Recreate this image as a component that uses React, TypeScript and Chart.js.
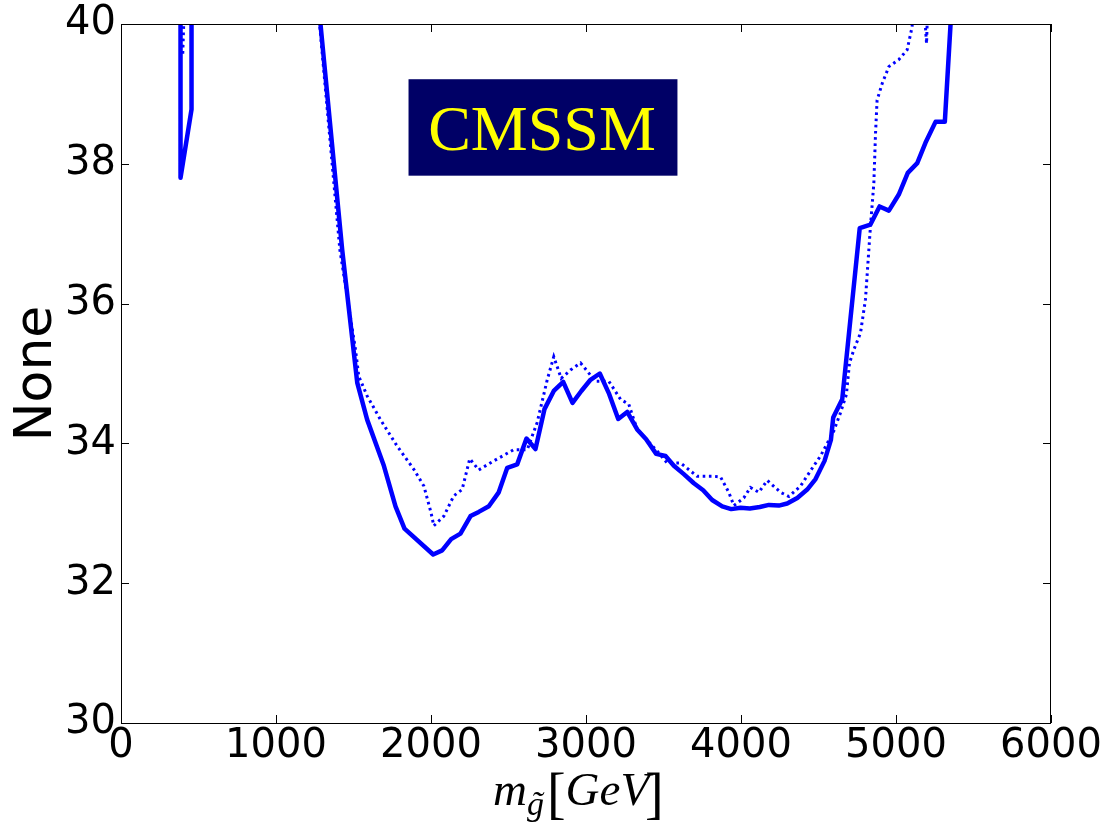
import React, { useEffect, useRef } from "react";
import { Chart, registerables } from "chart.js";

Chart.register(...registerables);

// ---- data ----
const solidSpikeX = [384, 384, 455, 455];
const solidSpikeY = [41, 37.8, 38.78, 41];

const solidX = [
  1270, 1427, 1524, 1588, 1696, 1771, 1829, 2014, 2072, 2130, 2190, 2255, 2308, 2373, 2437, 2492, 2556,
  2616, 2674, 2732, 2792, 2853, 2913, 2970, 3029, 3089, 3147, 3208, 3266, 3330, 3388, 3453, 3513, 3567,
  3631, 3696, 3756, 3814, 3879, 3937, 3997, 4057, 4121, 4180, 4244, 4298, 4363, 4427, 4481, 4539, 4580,
  4595, 4653, 4766, 4835, 4894, 4954, 5018, 5076, 5137, 5190, 5255, 5315, 5352, 5360,
];
const solidY = [
  40.39, 36.77, 34.87, 34.34, 33.68, 33.1, 32.78, 32.41, 32.47, 32.63, 32.71, 32.96, 33.02, 33.1, 33.3,
  33.65, 33.7, 34.07, 33.92, 34.49, 34.75, 34.88, 34.58, 34.75, 34.91, 35.0, 34.72, 34.35, 34.45, 34.2,
  34.06, 33.85, 33.82, 33.68, 33.56, 33.43, 33.33, 33.19, 33.1, 33.06, 33.08, 33.07, 33.09, 33.12, 33.11,
  33.14, 33.22, 33.34, 33.49, 33.75, 34.05, 34.37, 34.63, 37.08, 37.13, 37.39, 37.33, 37.56, 37.87, 38.01,
  38.3, 38.6, 38.6, 40.0, 40.4,
];

const dottedSpikeX = [392, 398, 412];
const dottedSpikeY = [40.5, 39.55, 40.5];

const dottedX = [
  1265, 1412, 1513, 1534, 1588, 1674, 1782, 1889, 1954, 2000, 2018, 2083, 2147, 2201, 2250, 2308, 2405,
  2534, 2621, 2685, 2750, 2792, 2840, 2900, 2965, 3061, 3147, 3223, 3276, 3330, 3459, 3524, 3610, 3717,
  3825, 3868, 3921, 3954, 4018, 4061, 4115, 4169, 4255, 4309, 4384, 4470, 4513, 4599, 4642, 4680, 4700,
  4728, 4771, 4803, 4835, 4857, 4868, 4878, 4911, 4954, 5018, 5072, 5104, 5110,
];
const dottedY = [
  40.4, 36.77, 35.34, 34.96, 34.68, 34.34, 33.96, 33.63, 33.39, 33.01, 32.82, 32.96, 33.25, 33.34, 33.78,
  33.62, 33.75, 33.91, 33.91, 34.3, 34.91, 35.24, 34.93, 35.05, 35.15, 34.89, 34.89, 34.63, 34.56, 34.2,
  33.89, 33.72, 33.72, 33.53, 33.53, 33.52, 33.3, 33.11, 33.22, 33.37, 33.3, 33.47, 33.3, 33.24, 33.39,
  33.68, 33.82, 34.18, 34.44, 34.7, 35.15, 35.34, 35.58, 36.06, 37.1, 37.72, 38.44, 38.91, 39.15, 39.39,
  39.49, 39.63, 39.96, 40.3,
];
const dottedTailX = [5180, 5197, 5205];
const dottedTailY = [40.3, 39.72, 40.3];

const xTickStep = 1000;
const yTickStep = 2;
const xMin = 0, xMax = 6000, yMin = 30, yMax = 40;

const labelText = "CMSSM";
const labelBoxX = [1855, 3590];
const labelBoxY = [39.21, 37.83];

function toPoints(xs: number[], ys: number[]) {
  return xs.map((x, i) => ({ x, y: ys[i] }));
}
function joinSegments(...segs: { x: number; y: number | null }[][]) {
  const out: { x: number; y: number | null }[] = [];
  segs.forEach((s, i) => {
    if (i > 0) {
      const prev = out[out.length - 1];
      out.push({ x: (prev.x + s[0].x) / 2, y: null });
    }
    out.push(...s);
  });
  return out;
}

const framePlugin = {
  id: "frameTicks",
  afterDraw(chart: any) {
    const { ctx, chartArea: a, scales } = chart;
    const xs = scales.x, ys = scales.y;
    ctx.save();
    ctx.strokeStyle = "#000";
    ctx.lineWidth = 1;
    ctx.strokeRect(a.left + 0.5, a.top + 0.5, a.right - a.left - 1, a.bottom - a.top);
    const tl = 8;
    ctx.beginPath();
    xs.ticks.forEach((t: any) => {
      const px = Math.round(xs.getPixelForValue(t.value)) + 0.5;
      ctx.moveTo(px, a.bottom);
      ctx.lineTo(px, a.bottom - tl);
      ctx.moveTo(px, a.top);
      ctx.lineTo(px, a.top + tl);
    });
    ys.ticks.forEach((t: any) => {
      const py = Math.round(ys.getPixelForValue(t.value)) + 0.5;
      ctx.moveTo(a.left, py);
      ctx.lineTo(a.left + tl, py);
      ctx.moveTo(a.right, py);
      ctx.lineTo(a.right - tl, py);
    });
    ctx.stroke();

    // CMSSM label box
    const bx0 = xs.getPixelForValue(labelBoxX[0]);
    const bx1 = xs.getPixelForValue(labelBoxX[1]);
    const by0 = ys.getPixelForValue(labelBoxY[0]);
    const by1 = ys.getPixelForValue(labelBoxY[1]);
    ctx.fillStyle = "#000066";
    ctx.fillRect(bx0, by0, bx1 - bx0, by1 - by0);
    ctx.fillStyle = "#ffff00";
    ctx.font = "64px 'Liberation Serif', serif";
    ctx.textAlign = "center";
    ctx.textBaseline = "alphabetic";
    ctx.fillText(labelText, (bx0 + bx1) / 2 - 1, (by0 + by1) / 2 + 23);

    // x-axis label  m_{g~}[GeV]
    ctx.fillStyle = "#000";
    ctx.textAlign = "left";
    let x = 493;
    const base = 805;
    const it = "italic 47px 'Liberation Serif', serif";
    const sub = "italic 34px 'Liberation Serif', serif";
    const br = "56px 'Liberation Serif', serif";
    ctx.font = it;
    ctx.fillText("m", x, base);
    x += ctx.measureText("m").width;
    ctx.font = sub;
    ctx.fillText("g", x, base + 10);
    ctx.fillText("\u02DC", x + 4, base + 10);
    x += ctx.measureText("g").width + 3;
    ctx.font = br;
    ctx.fillText("[", x, base + 7);
    x += ctx.measureText("[").width;
    ctx.font = it;
    ctx.fillText("GeV", x, base);
    x += ctx.measureText("GeV").width - 4;
    ctx.font = br;
    ctx.fillText("]", x, base + 7);
    ctx.restore();
  },
};

export default function App() {
  const ref = useRef<HTMLCanvasElement | null>(null);
  useEffect(() => {
    document.body.style.margin = "0";
    const canvas = ref.current!;
    const chart = new Chart(canvas, {
      type: "line",
      data: {
        datasets: [
          {
            data: joinSegments(toPoints(dottedSpikeX, dottedSpikeY), toPoints(dottedX, dottedY), toPoints(dottedTailX, dottedTailY)),
            borderColor: "#0000ff",
            borderWidth: 3,
            borderDash: [2.6, 3.6],
            pointRadius: 0,
            tension: 0,
            spanGaps: false,
            fill: false,
          },
          {
            data: joinSegments(toPoints(solidSpikeX, solidSpikeY), toPoints(solidX, solidY)),
            borderColor: "#0000ff",
            borderWidth: 4.5,
            borderJoinStyle: "round",
            borderCapStyle: "round",
            pointRadius: 0,
            tension: 0,
            spanGaps: false,
            fill: false,
          },
        ],
      },
      options: {
        responsive: false,
        animation: false,
        devicePixelRatio: 1,
        parsing: false as any,
        layout: { padding: { left: 0, right: 61, top: 24, bottom: 0 } },
        plugins: { legend: { display: false }, tooltip: { enabled: false } },
        scales: {
          x: {
            type: "linear",
            min: xMin,
            max: xMax,
            grid: { display: false, drawTicks: false },
            border: { display: false },
            ticks: {
              stepSize: xTickStep,
              color: "#000",
              padding: 0,
              maxRotation: 0,
              autoSkip: false,
              font: { family: "'DejaVu Sans'", size: 40 },
              callback: (v: any) => String(v),
            },
            afterFit(s: any) {
              s.height = 106;
            },
          },
          y: {
            type: "linear",
            min: yMin,
            max: yMax,
            grid: { display: false, drawTicks: false },
            border: { display: false },
            ticks: {
              stepSize: yTickStep,
              color: "#000",
              padding: 5,
              font: { family: "'DejaVu Sans'", size: 40, lineHeight: 0.9 },
              callback: (v: any) => String(v),
            },
            title: {
              display: true,
              text: "None",
              color: "#000",
              padding: { top: 6, bottom: 0 },
              font: { family: "'DejaVu Sans'", size: 52 },
            },
            afterFit(s: any) {
              s.width = 121;
            },
          },
        },
      } as any,
      plugins: [framePlugin],
    });
    return () => chart.destroy();
  }, []);
  return (
    <canvas
      ref={ref}
      width={1112}
      height={829}
      style={{ display: "block", position: "absolute", left: 0, top: 0 }}
    />
  );
}
